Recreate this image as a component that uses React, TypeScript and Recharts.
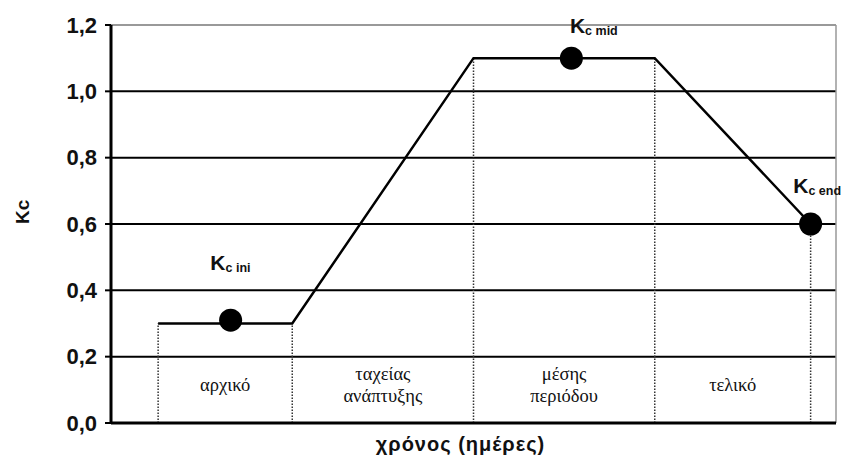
import {
    ComposedChart,
    Line,
    Scatter,
    XAxis,
    YAxis,
    ReferenceLine,
    ReferenceArea,
} from 'recharts';

// Kc curve breakpoints (day, Kc)
const curveDays = [6.5, 25, 50, 75, 96.5];
const curveKc = [0.3, 0.3, 1.1, 1.1, 0.6];

// stage markers
const markerDays = [16.5, 63.5, 96.5];
const markerKc = [0.31, 1.1, 0.6];

// marker labels
const markerLabelDays = [13.7, 63.3, 94.1];
const markerLabelKc = [0.461, 1.176, 0.693];
const markerLabelSubs = ['c ini', 'c mid', 'c end'];

// stages
const stageStart = [6.5, 25, 50, 75];
const stageEnd = [25, 50, 75, 96.5];
const stageNames = [['αρχικό'], ['ταχείας', 'ανάπτυξης'], ['μέσης', 'περιόδου'], ['τελικό']];

// boundaries and where the curve sits on them
const boundaryDays = [6.5, 25, 50, 75, 96.5];
const boundaryTop = [0.3, 0.3, 1.1, 1.1, 0.6];

const yTicks = [0, 0.2, 0.4, 0.6, 0.8, 1.0, 1.2];
const gridValues = [0.2, 0.4, 0.6, 0.8, 1.0];

const curve = curveDays.map((d, i) => ({ day: d, kc: curveKc[i] }));
const markers = markerDays.map((d, i) => ({ day: d, kc: markerKc[i] }));
const markerLabels = markerLabelDays.map((d, i) => ({ day: d, kc: markerLabelKc[i], sub: markerLabelSubs[i] }));

const StageLabel = ({ viewBox, lines }: any) => {
    const cx = viewBox.x + viewBox.width / 2;
    const cy = viewBox.y + viewBox.height / 2 - 3;
    const lh = 22;
    const start = cy - ((lines.length - 1) * lh) / 2;
    return (
        <text
            x={cx}
            textAnchor="middle"
            fontFamily="'Liberation Serif', 'Times New Roman', serif"
            fontSize={18.5}
            fill="#111"
        >
            {lines.map((l: string, i: number) => (
                <tspan key={l} x={cx} y={start + i * lh} dominantBaseline="middle">
                    {l}
                </tspan>
            ))}
        </text>
    );
};

const KcLabel = (props: any) => {
    const { cx, cy, payload } = props;
    return (
        <text x={cx} y={cy} fontFamily="'Liberation Sans', Arial, sans-serif" fontWeight="bold" fill="#111">
            <tspan fontSize={21}>K</tspan>
            <tspan fontSize={12.5} dy={2}>{payload.sub}</tspan>
        </text>
    );
};

const Dot = (props: any) => <circle cx={props.cx} cy={props.cy} r={11.5} fill="#000" />;

export default function App() {
    return (
        <div style={{ position: 'absolute', left: 0, top: 0, background: '#fff', fontFamily: "'Liberation Sans', Arial, sans-serif" }}>
            <ComposedChart width={856} height={470} margin={{ top: 25, right: 20, bottom: 0, left: 0 }}>
                <XAxis
                    type="number"
                    dataKey="day"
                    domain={[0, 100]}
                    tick={false}
                    tickLine={false}
                    height={47}
                    axisLine={{ stroke: '#000', strokeWidth: 3 }}
                    label={{
                        value: 'χρόνος (ημέρες)',
                        position: 'insideBottom',
                        offset: 19,
                        dx: -13,
                        fill: '#111',
                        fontSize: 20,
                        fontWeight: 'bold',
                        letterSpacing: 1,
                    }}
                />
                <YAxis
                    type="number"
                    dataKey="kc"
                    domain={[0, 1.2]}
                    ticks={yTicks}
                    interval={0}
                    width={111}
                    tickSize={6}
                    tickMargin={8}
                    tickFormatter={(v: number) => v.toFixed(1).replace('.', ',')}
                    tick={{ fill: '#111', fontSize: 22, fontWeight: 'bold' }}
                    tickLine={{ stroke: '#000', strokeWidth: 2 }}
                    axisLine={{ stroke: '#000', strokeWidth: 3 }}
                    label={{
                        value: 'Kc',
                        angle: -90,
                        position: 'insideLeft',
                        offset: 22,
                        fill: '#111',
                        fontSize: 19,
                        fontWeight: 'bold',
                    }}
                />
                {gridValues.map((v) => (
                    <ReferenceLine key={v} y={v} stroke="#000" strokeWidth={2} />
                ))}
                <ReferenceLine y={1.2} stroke="#777" strokeWidth={1.5} />
                <ReferenceLine x={100} stroke="#999" strokeWidth={1.5} />
                {boundaryDays.map((d, i) => (
                    <ReferenceLine
                        key={'b' + d}
                        segment={[{ x: d, y: 0 }, { x: d, y: boundaryTop[i] }]}
                        stroke="#333"
                        strokeWidth={1.5}
                        strokeDasharray="1.5 1.5"
                    />
                ))}
                {stageStart.map((s, i) => (
                    <ReferenceArea
                        key={'s' + s}
                        x1={s}
                        x2={stageEnd[i]}
                        y1={0}
                        y2={0.2}
                        fill="none"
                        stroke="none"
                        label={<StageLabel lines={stageNames[i]} />}
                    />
                ))}
                <Line
                    data={curve}
                    dataKey="kc"
                    type="linear"
                    stroke="#000"
                    strokeWidth={2.5}
                    dot={false}
                    activeDot={false}
                    isAnimationActive={false}
                />
                <Scatter data={markers} dataKey="kc" shape={<Dot />} isAnimationActive={false} />
                <Scatter data={markerLabels} dataKey="kc" shape={<KcLabel />} isAnimationActive={false} />
            </ComposedChart>
        </div>
    );
}
